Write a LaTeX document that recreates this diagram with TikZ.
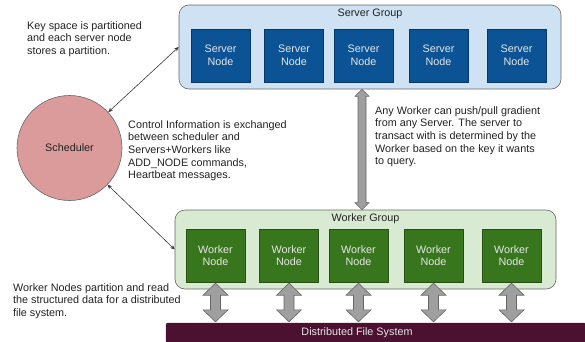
\documentclass[tikz,border=0pt]{standalone}
\usepackage{fontspec}
\setmainfont{Liberation Sans}
\usetikzlibrary{arrows.meta,calc}
\definecolor{sgfill}{HTML}{CFE2F3}
\definecolor{snfill}{HTML}{0B5394}
\definecolor{sndraw}{HTML}{073763}
\definecolor{wgfill}{HTML}{D9EAD3}
\definecolor{wnfill}{HTML}{38761D}
\definecolor{wndraw}{HTML}{274E13}
\definecolor{dfsfill}{HTML}{4C1130}
\definecolor{schfill}{RGB}{220,155,155}
\definecolor{grpdraw}{HTML}{666666}
\definecolor{txt}{HTML}{222222}
\definecolor{boxtxt}{HTML}{E6E6E6}
\tikzset{
  every node/.style={font=\fontsize{10.8}{12.7}\selectfont},
  group/.style={draw=grpdraw, line width=0.6pt, rounded corners=10pt, minimum width=#1},
  srvbox/.style={draw=sndraw, fill=snfill, text=boxtxt, minimum width=59pt, minimum height=53pt, align=center, inner sep=0pt},
  wrkbox/.style={draw=wndraw, fill=wnfill, text=boxtxt, minimum width=59pt, minimum height=53pt, align=center, inner sep=0pt},
  note/.style={anchor=north west, align=left, inner sep=0pt, text=txt},
  ctl/.style={draw=txt!90, line width=0.6pt, {Stealth[length=4.5pt,width=4pt]}-{Stealth[length=4.5pt,width=4pt]}},
  fatarr/.style={draw=grpdraw, fill=gray!75, line width=0.6pt, line join=miter},
}
\newcommand\fatarrow[5]{%
  \draw[fatarr] let \p1=(#1), \p2=(#2) in
    (\x1,\y1) -- (\x1+#3,\y1-#5) -- (\x1+#4,\y1-#5) -- (\x1+#4,\y2+#5) -- (\x1+#3,\y2+#5)
    -- (\x1,\y2) -- (\x1-#3,\y2+#5) -- (\x1-#4,\y2+#5) -- (\x1-#4,\y1-#5) -- (\x1-#3,\y1-#5) -- cycle;}
\begin{document}
\begin{tikzpicture}[x=1pt,y=-1pt]
\useasboundingbox (0,0) rectangle (585,341);
% groups
\node[group=382pt, fill=sgfill, minimum height=84pt] (sg) at (370,47) {};
\node[text=txt, inner sep=0pt] (sgl) at ([yshift=-9pt]sg.north) {Server Group};
\node[srvbox] (s1) at (220.5,55.5) {Server\\Node};
\node[srvbox] (s2) at (294,55.5) {Server\\Node};
\node[srvbox] (s3) at (363.5,55.5) {Server\\Node};
\node[srvbox] (s4) at (438.5,55.5) {Server\\Node};
\node[srvbox] (s5) at (516.5,55.5) {Server\\Node};

\node[group=381pt, fill=wgfill, minimum height=79pt] (wg) at (365.5,249.5) {};
\node[text=txt, inner sep=0pt] (wgl) at ([yshift=-9pt]wg.north) {Worker Group};
\node[wrkbox] (w1) at (215.5,255.5) {Worker\\Node};
\node[wrkbox] (w2) at (289,255.5) {Worker\\Node};
\node[wrkbox] (w3) at (358.5,255.5) {Worker\\Node};
\node[wrkbox] (w4) at (433.5,255.5) {Worker\\Node};
\node[wrkbox] (w5) at (511.5,255.5) {Worker\\Node};

% DFS bar
\node[draw=dfsfill, fill=dfsfill, rounded corners=2pt, minimum width=420pt, minimum height=20pt, inner sep=0pt] (dfs) at (376,333) {};
\node[text=boxtxt, inner sep=0pt] (dfsl) at (357,333) {Distributed File System};

% scheduler
\node[circle, draw=grpdraw, fill=schfill, line width=0.6pt, minimum size=105pt, inner sep=0pt, text=txt] (sch) at (69.5,148) {Scheduler};

% control connectors
\draw[ctl] (sch) -- (sg.west);
\draw[ctl] (sch) -- (wg.west);

% push/pull arrow
\coordinate (pt) at (sg.south -| 362,0);
\coordinate (pb) at (wg.north -| 362,0);
\fatarrow{pt}{pb}{7pt}{4pt}{7pt}

% worker <-> dfs arrows
\foreach \i in {1,...,5}{
  \fatarrow{$(w\i.south)+(0,1)$}{$(w\i.south |- dfs.north)+(0,-1)$}{12.5pt}{5pt}{12pt}
}

% notes
\node[note] (n1) at (27,21) {Key space is partitioned\\and each server node\\stores a partition.};
\node[note] (n2) at (128,120) {Control Information is exchanged\\between scheduler and\\Servers+Workers like\\ADD\_NODE commands,\\Heartbeat messages.};
\node[note] (n3) at (375,106) {Any Worker can push/pull gradient\\from any Server. The server to\\transact with is determined by the\\Worker based on the key it wants\\to query.};
\node[note] (n4) at (13,283) {Worker Nodes partition and read\\the structured data for a distributed\\file system.};
\end{tikzpicture}
\end{document}
